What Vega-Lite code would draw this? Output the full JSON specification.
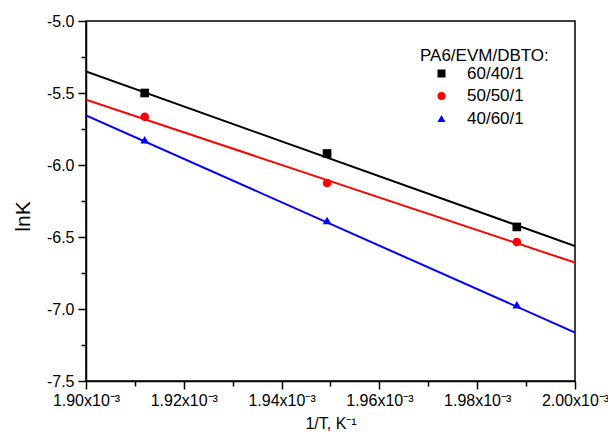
{
  "$schema": "https://vega.github.io/schema/vega-lite/v6.json",
  "autosize": "none",
  "width": 489,
  "height": 360,
  "padding": {"left": 86, "top": 21, "right": 33, "bottom": 61},
  "background": "white",
  "config": {
    "view": {"stroke": "black", "strokeWidth": 1.5},
    "font": "Liberation Sans",
    "axis": {
      "grid": false,
      "domainColor": "black",
      "domainWidth": 1.5,
      "tickColor": "black",
      "tickWidth": 1.5,
      "tickSize": 8,
      "labelColor": "black",
      "labelFont": "Liberation Sans",
      "labelFontSize": 16,
      "titleFont": "Liberation Sans",
      "titleColor": "black",
      "titleFontWeight": "normal"
    },
    "legend": {
      "labelFont": "Liberation Sans",
      "titleFont": "Liberation Sans",
      "orient": "none",
      "legendX": 334,
      "legendY": 27,
      "titleFontSize": 17,
      "titleFontWeight": "normal",
      "titleColor": "black",
      "titlePadding": 0,
      "labelFontSize": 17,
      "labelColor": "black",
      "symbolOffset": 13,
      "labelOffset": 17,
      "rowPadding": 4.5,
      "symbolSize": 64,
      "symbolStrokeWidth": 0
    }
  },
  "datasets": {
    "points": [
      {"x": 0.001912, "lnK": -5.50, "series": "60/40/1"},
      {"x": 0.0019493, "lnK": -5.92, "series": "60/40/1"},
      {"x": 0.0019881, "lnK": -6.43, "series": "60/40/1"},
      {"x": 0.001912, "lnK": -5.665, "series": "50/50/1"},
      {"x": 0.0019493, "lnK": -6.125, "series": "50/50/1"},
      {"x": 0.0019881, "lnK": -6.535, "series": "50/50/1"},
      {"x": 0.001912, "lnK": -5.825, "series": "40/60/1"},
      {"x": 0.0019493, "lnK": -6.385, "series": "40/60/1"},
      {"x": 0.0019881, "lnK": -6.97, "series": "40/60/1"}
    ],
    "fits": [
      {"x": 0.0019, "lnK": -5.351, "series": "60/40/1"},
      {"x": 0.002, "lnK": -6.563, "series": "60/40/1"},
      {"x": 0.0019, "lnK": -5.547, "series": "50/50/1"},
      {"x": 0.002, "lnK": -6.678, "series": "50/50/1"},
      {"x": 0.0019, "lnK": -5.656, "series": "40/60/1"},
      {"x": 0.002, "lnK": -7.163, "series": "40/60/1"}
    ]
  },
  "layer": [
    {
      "data": {"name": "fits"},
      "mark": {"type": "line", "strokeWidth": 2, "clip": true},
      "encoding": {
        "x": {
          "field": "x", "type": "quantitative",
          "scale": {"domain": [0.0019, 0.002], "nice": false, "zero": false},
          "axis": {
            "orient": "bottom",
            "values": [0.0019, 0.00192, 0.00194, 0.00196, 0.00198, 0.002],
            "labelExpr": "format(datum.value*1000, '.2f') + 'x10⁻³'",
            "labelPadding": 3,
            "labelFlush": false,
            "labelOverlap": false,
            "title": "1/T, K⁻¹",
            "titleFontSize": 16,
            "titlePadding": 7
          }
        },
        "y": {
          "field": "lnK", "type": "quantitative",
          "scale": {"domain": [-7.5, -5.0], "nice": false, "zero": false},
          "axis": {
            "orient": "left",
            "values": [-7.5, -7.0, -6.5, -6.0, -5.5, -5.0],
            "labelExpr": "replace(format(datum.value, '.1f'), '−', '-')",
            "labelPadding": 4,
            "labelFlush": false,
            "labelOverlap": false,
            "title": "lnK",
            "titleFontSize": 21,
            "titlePadding": 13,
            "titleY": 195
          }
        },
        "stroke": {
          "field": "series", "type": "nominal",
          "scale": {"domain": ["40/60/1", "50/50/1", "60/40/1"], "range": ["#0000ff", "#ff0000", "#000000"]},
          "legend": null
        },
        "detail": {"field": "series"}
      }
    },
    {
      "data": {"name": "points"},
      "mark": {"type": "point", "filled": true, "opacity": 1, "size": 75, "strokeWidth": 0},
      "encoding": {
        "x": {
          "field": "x", "type": "quantitative",
          "axis": {
            "orient": "bottom",
            "values": [0.00191, 0.00193, 0.00195, 0.00197, 0.00199],
            "labels": false,
            "domain": false,
            "tickSize": 5,
            "title": null
          }
        },
        "y": {
          "field": "lnK", "type": "quantitative",
          "axis": {
            "orient": "left",
            "values": [-7.25, -6.75, -6.25, -5.75, -5.25],
            "labels": false,
            "domain": false,
            "tickSize": 5,
            "title": null
          }
        },
        "color": {
          "field": "series", "type": "nominal",
          "scale": {"domain": ["60/40/1", "50/50/1", "40/60/1"], "range": ["#000000", "#ff0000", "#0000ff"]},
          "title": "PA6/EVM/DBTO:"
        },
        "shape": {
          "field": "series", "type": "nominal",
          "scale": {"domain": ["60/40/1", "50/50/1", "40/60/1"], "range": ["square", "circle", "triangle-up"]},
          "title": "PA6/EVM/DBTO:"
        }
      }
    }
  ],
  "resolve": {"axis": {"x": "independent", "y": "independent"}}
}
